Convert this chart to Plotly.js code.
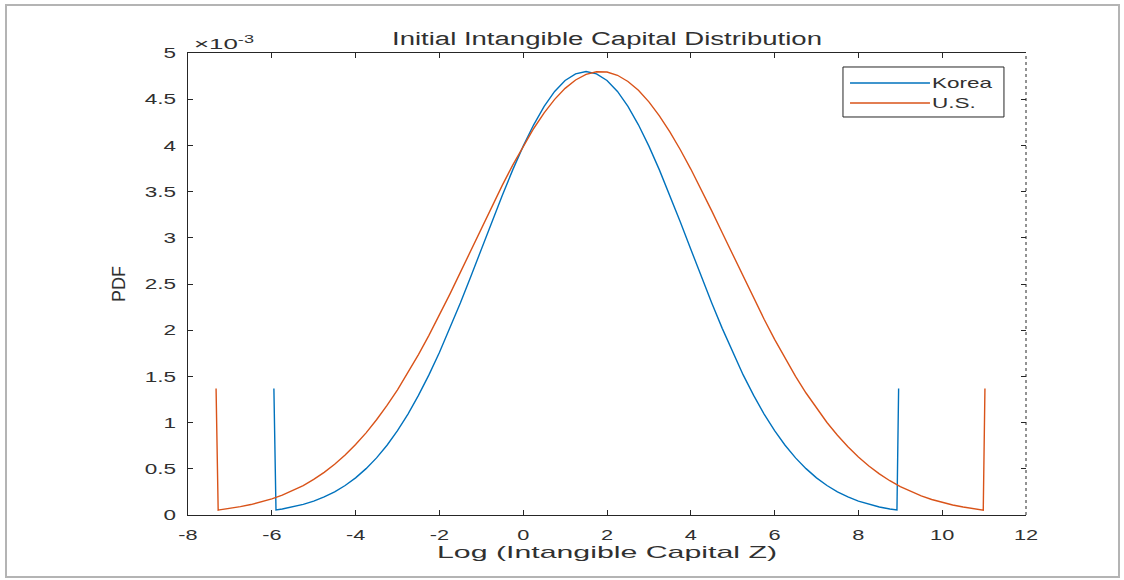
<!DOCTYPE html>
<html>
<head>
<meta charset="utf-8">
<script src="https://cdn.plot.ly/plotly-3.0.1.min.js"></script>
<style>
html,body{margin:0;padding:0;background:#fff;}
#frame{position:absolute;left:5px;top:4px;width:1115px;height:574px;border:2px solid #b4b4b4;box-sizing:border-box;pointer-events:none;z-index:10;}
#chart{position:absolute;left:0;top:0;width:1124px;height:580px;}
</style>
</head>
<body>
<div id="chart"></div>
<div id="frame"></div>
<script>
// Data (PDF values in units of 1e-3)
const koreaX = [-5.95, -5.9, -5.75, -5.5, -5.25, -5, -4.75, -4.5, -4.25, -4, -3.75, -3.5, -3.25, -3, -2.75, -2.5, -2.25, -2, -1.75, -1.5, -1.25, -1, -0.75, -0.5, -0.25, 0, 0.25, 0.5, 0.75, 1, 1.25, 1.5, 1.75, 2, 2.25, 2.5, 2.75, 3, 3.25, 3.5, 3.75, 4, 4.25, 4.5, 4.75, 5, 5.25, 5.5, 5.75, 6, 6.25, 6.5, 6.75, 7, 7.25, 7.5, 7.75, 8, 8.25, 8.5, 8.75, 8.92, 8.96];
const koreaY = [1.37, 0.054, 0.065, 0.087, 0.115, 0.150, 0.195, 0.251, 0.319, 0.402, 0.502, 0.618, 0.755, 0.913, 1.092, 1.294, 1.516, 1.759, 2.020, 2.295, 2.582, 2.876, 3.170, 3.458, 3.735, 3.992, 4.223, 4.422, 4.584, 4.703, 4.775, 4.8, 4.775, 4.703, 4.584, 4.422, 4.223, 3.992, 3.735, 3.458, 3.170, 2.876, 2.582, 2.295, 2.020, 1.759, 1.516, 1.294, 1.092, 0.913, 0.755, 0.618, 0.502, 0.402, 0.319, 0.251, 0.195, 0.150, 0.115, 0.087, 0.065, 0.054, 1.37];

const usX = [-7.33, -7.28, -7.25, -7, -6.75, -6.5, -6.25, -6, -5.75, -5.5, -5.25, -5, -4.75, -4.5, -4.25, -4, -3.75, -3.5, -3.25, -3, -2.75, -2.5, -2.25, -2, -1.75, -1.5, -1.25, -1, -0.75, -0.5, -0.25, 0, 0.25, 0.5, 0.75, 1, 1.25, 1.5, 1.75, 2, 2.25, 2.5, 2.75, 3, 3.25, 3.5, 3.75, 4, 4.25, 4.5, 4.75, 5, 5.25, 5.5, 5.75, 6, 6.25, 6.5, 6.75, 7, 7.25, 7.5, 7.75, 8, 8.25, 8.5, 8.75, 9, 9.25, 9.5, 9.75, 10, 10.25, 10.5, 10.75, 10.98, 11.02];
const usY = [1.37, 0.053, 0.056, 0.071, 0.090, 0.113, 0.141, 0.175, 0.215, 0.263, 0.319, 0.385, 0.462, 0.549, 0.649, 0.762, 0.889, 1.031, 1.186, 1.355, 1.539, 1.736, 1.944, 2.163, 2.391, 2.626, 2.863, 3.102, 3.337, 3.567, 3.787, 3.993, 4.183, 4.352, 4.498, 4.617, 4.708, 4.768, 4.797, 4.794, 4.759, 4.692, 4.596, 4.471, 4.320, 4.146, 3.953, 3.744, 3.522, 3.291, 3.054, 2.816, 2.578, 2.345, 2.119, 1.901, 1.695, 1.501, 1.320, 1.154, 1.001, 0.863, 0.739, 0.628, 0.531, 0.445, 0.371, 0.307, 0.253, 0.206, 0.168, 0.135, 0.108, 0.086, 0.068, 0.053, 1.37];

const seriesNames = ["Korea", "U.S."];
const seriesColors = ["#0072BD", "#D95319"];
const xTickVals = [-8, -6, -4, -2, 0, 2, 4, 6, 8, 10, 12];
const xTickText = ["-8", "-6", "-4", "-2", "0", "2", "4", "6", "8", "10", "12"];
const yTickVals = [0, 0.5, 1, 1.5, 2, 2.5, 3, 3.5, 4, 4.5, 5];
const yTickText = ["0", "0.5", "1", "1.5", "2", "2.5", "3", "3.5", "4", "4.5", "5"];

const FONT = "Liberation Sans, Arial, sans-serif";
const AX = "#262626";
const TX = "#303030";

const traces = [
  {x: koreaX, y: koreaY, type: "scatter", mode: "lines", name: seriesNames[0],
   line: {color: seriesColors[0], width: 1.4}},
  {x: usX, y: usY, type: "scatter", mode: "lines", name: seriesNames[1],
   line: {color: seriesColors[1], width: 1.4}},
  // invisible trace to hold the mirrored right-side ticks
  {x: [-8], y: [0], yaxis: "y2", mode: "markers", marker: {opacity: 0}, showlegend: false, hoverinfo: "skip"}
];

// custom legend (box, long line samples, labels) in paper coordinates
const legBox = {x0: 0.7816, x1: 0.9737, y0: 0.8615, y1: 0.9697};
const legRows = [0.9351, 0.8918];
const shapes = [
  {type: "line", xref: "paper", yref: "paper", x0: 1, x1: 1, y0: 0, y1: 1,
   line: {color: AX, width: 1, dash: "dot"}},
  {type: "rect", xref: "paper", yref: "paper", x0: legBox.x0, x1: legBox.x1, y0: legBox.y0, y1: legBox.y1,
   line: {color: AX, width: 1}, fillcolor: "#fff", layer: "above"}
];
const annotations = [
  {text: "×10<sup>-3</sup>", xref: "paper", yref: "paper", x: 0.005, y: 1.0, xanchor: "left", yanchor: "bottom",
   align: "left", showarrow: false, font: {size: 15, color: TX}, yshift: -1, name: "exp"}
];
seriesNames.forEach((n, i) => {
  shapes.push({type: "line", xref: "paper", yref: "paper", x0: 0.790, x1: 0.8854, y0: legRows[i], y1: legRows[i],
               line: {color: seriesColors[i], width: 1.4}, layer: "above"});
  annotations.push({text: n, xref: "paper", yref: "paper", x: 0.8865, y: legRows[i], xanchor: "left", yanchor: "middle",
                    align: "left", showarrow: false, font: {size: 15, color: TX}, borderpad: 0});
});

const layout = {
  width: 1124, height: 580,
  margin: {l: 188, r: 98, t: 53, b: 65},
  paper_bgcolor: "#fff", plot_bgcolor: "#fff",
  font: {family: FONT, size: 15, color: TX},
  title: {text: "Initial Intangible Capital Distribution", font: {size: 18, color: TX},
          x: 0.5, xref: "paper", xanchor: "center", y: 1, yref: "paper", yanchor: "bottom", pad: {b: 8}},
  xaxis: {range: [-8, 12], tickvals: xTickVals, ticktext: xTickText, ticks: "inside", ticklen: 5, tickcolor: AX,
          showline: true, linecolor: AX, linewidth: 1, mirror: "ticks", showgrid: false, zeroline: false,
          tickfont: {size: 15, color: TX}, ticklabelstandoff: 6,
          title: {text: "Log (Intangible Capital Z)", font: {size: 17, color: TX}, standoff: 4}},
  yaxis: {range: [0, 5], tickvals: yTickVals, ticktext: yTickText, ticks: "inside", ticklen: 5, tickcolor: AX,
          showline: true, linecolor: AX, linewidth: 1, mirror: false, showgrid: false, zeroline: false,
          tickfont: {size: 15, color: TX}, ticklabelstandoff: 8,
          title: {text: "PDF", font: {size: 18, color: TX}, standoff: 24}},
  yaxis2: {range: [0, 5], overlaying: "y", side: "right", tickvals: yTickVals, ticks: "inside", ticklen: 5,
           tickcolor: AX, showticklabels: false, showline: false, showgrid: false, zeroline: false},
  showlegend: false,
  shapes: shapes,
  annotations: annotations
};

function stretch(els, f, target) {
  els.forEach(t => {
    if (!t.dataset.nat) {
      const w0 = t.getComputedTextLength();
      if (!w0) return;
      t.dataset.nat = String(w0);
    }
    const w = parseFloat(t.dataset.nat);
    const L = target ? target : w * f;
    t.setAttribute("textLength", L.toFixed(1));
    t.setAttribute("lengthAdjust", "spacingAndGlyphs");
  });
}
function stretchAll() {
  // the reference's text is drawn horizontally widened
  stretch(document.querySelectorAll(".xtick text"), 1.45);
  stretch(document.querySelectorAll(".ytick text"), 1.5);
  stretch(document.querySelectorAll(".gtitle"), 1, 430);
  stretch(document.querySelectorAll(".xtitle"), 1, 340);
  const ann = Array.from(document.querySelectorAll(".annotation-text"));
  stretch(ann.slice(0, 1), 1, 60);
  stretch(ann.slice(1), 1.5);
}

Plotly.newPlot("chart", traces, layout, {displayModeBar: false, staticPlot: true}).then(() => {
  stretchAll();
  requestAnimationFrame(stretchAll);
  setTimeout(stretchAll, 50);
  setTimeout(stretchAll, 300);
});
</script>
</body>
</html>
